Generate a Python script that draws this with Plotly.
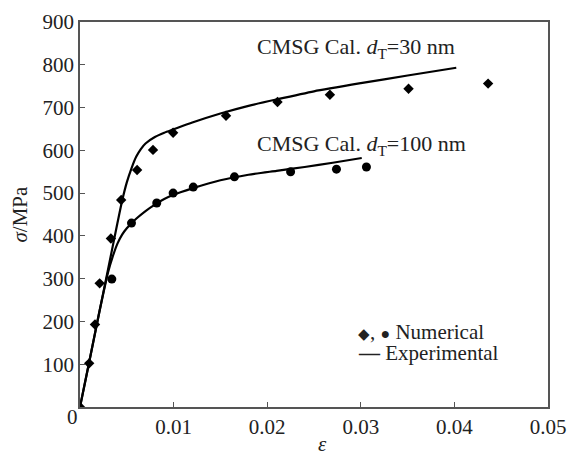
import plotly.graph_objects as go

# Numerical results (diamonds: d_T = 30 nm, circles: d_T = 100 nm)
num30_eps = [0.0, 0.00098, 0.0016, 0.0021, 0.0033, 0.0044, 0.0061, 0.0078, 0.00995, 0.0156, 0.0211, 0.0267, 0.0351, 0.0436]
num30_sig = [0, 102, 193, 289, 394, 484, 554, 601, 641, 681, 713, 730, 744, 756]

num100_eps = [0.0034, 0.0055, 0.0082, 0.00995, 0.0121, 0.0165, 0.0225, 0.0274, 0.0306]
num100_sig = [299, 430, 477, 500, 514, 538, 550, 556, 561]

# Experimental curves
exp30_eps = [0.0, 0.001, 0.002, 0.003, 0.004, 0.0045, 0.005, 0.0055, 0.006, 0.0065, 0.007, 0.008, 0.009, 0.010, 0.012, 0.015, 0.018, 0.021, 0.025, 0.030, 0.035, 0.0402]
exp30_sig = [0, 107, 215, 322, 430, 482, 525, 558, 585, 603, 616, 631, 641, 649, 665, 686, 704, 719, 738, 757, 775, 793]

exp100_eps = [0.0, 0.001, 0.002, 0.003, 0.0035, 0.004, 0.0045, 0.005, 0.006, 0.007, 0.008, 0.009, 0.010, 0.012, 0.015, 0.018, 0.021, 0.024, 0.027, 0.0301]
exp100_sig = [0, 107, 215, 315, 352, 382, 403, 418, 440, 458, 473, 486, 496, 511, 530, 543, 552, 561, 571, 582]

y_ticks = [0, 100, 200, 300, 400, 500, 600, 700, 800, 900]
x_ticks = [0.01, 0.02, 0.03, 0.04, 0.05]

FONT = "Liberation Serif"

fig = go.Figure()
for xs, ys in [(exp30_eps, exp30_sig), (exp100_eps, exp100_sig)]:
    fig.add_trace(go.Scatter(x=xs, y=ys, mode="lines",
                             line=dict(color="black", width=2.2, shape="spline", smoothing=0.6),
                             showlegend=False, hoverinfo="skip"))
fig.add_trace(go.Scatter(x=num30_eps, y=num30_sig, mode="markers",
                         marker=dict(symbol="diamond", size=8, color="black"),
                         showlegend=False))
fig.add_trace(go.Scatter(x=num100_eps, y=num100_sig, mode="markers",
                         marker=dict(symbol="circle", size=9, color="black"),
                         showlegend=False))

tf = dict(family=FONT, size=21, color="#222")
af = dict(family=FONT, size=22, color="#222")
fig.update_layout(
    width=568, height=455,
    margin=dict(l=80, r=20, t=22, b=48),
    paper_bgcolor="white", plot_bgcolor="white",
    font=tf,
    xaxis=dict(range=[0, 0.05], tickvals=x_ticks, ticktext=[str(v) for v in x_ticks],
               ticks="inside", ticklen=5, tickcolor="#555", showgrid=False, zeroline=False,
               showline=True, mirror=True, linecolor="#555", linewidth=1.5,
               tickfont=tf, automargin=False),
    yaxis=dict(range=[0, 900], tickvals=y_ticks, ticktext=[""] + [str(v) for v in y_ticks[1:]],
               ticks="inside", ticklen=5, tickcolor="#555", showgrid=False, zeroline=False,
               showline=True, mirror=True, linecolor="#555", linewidth=1.5,
               tickfont=tf, automargin=False),
)

fig.add_annotation(x=0, y=0, xref="x", yref="y", xshift=-8, yshift=-10,
                   text="0", showarrow=False, font=tf)
fig.add_annotation(x=0.5, y=0, xref="paper", yref="paper", yshift=-37, xshift=8,
                   text="<i>ε</i>", yanchor="middle", showarrow=False, font=tf)
fig.add_annotation(x=0, y=0.5, xref="paper", yref="paper", xshift=-61, textangle=-90,
                   text="<i>σ</i>/MPa", xanchor="center", showarrow=False, font=tf)
fig.add_annotation(x=0.0295, y=840, xref="x", yref="y",
                   text="CMSG Cal. <i>d</i><sub>T</sub>=30 nm", showarrow=False, font=af)
fig.add_annotation(x=0.0301, y=612, xref="x", yref="y",
                   text="CMSG Cal. <i>d</i><sub>T</sub>=100 nm", showarrow=False, font=af)
fig.add_annotation(x=0.0295, y=175, xref="x", yref="y", xanchor="left",
                   text="<span style='font-size:15px'>◆</span>, <span style='font-size:16px'>●</span> Numerical",
                   showarrow=False, font=tf)
fig.add_annotation(x=0.0295, y=127, xref="x", yref="y", xanchor="left",
                   text="<b>—</b> Experimental", showarrow=False, font=tf)

fig.write_html("out.html", config={"displayModeBar": False})
with open("out.html", "r", encoding="utf-8") as f:
    html = f.read()
html = html.replace("<head>", "<head><style>html,body{margin:0;padding:0;overflow:hidden;}</style>", 1)
with open("out.html", "w", encoding="utf-8") as f:
    f.write(html)
